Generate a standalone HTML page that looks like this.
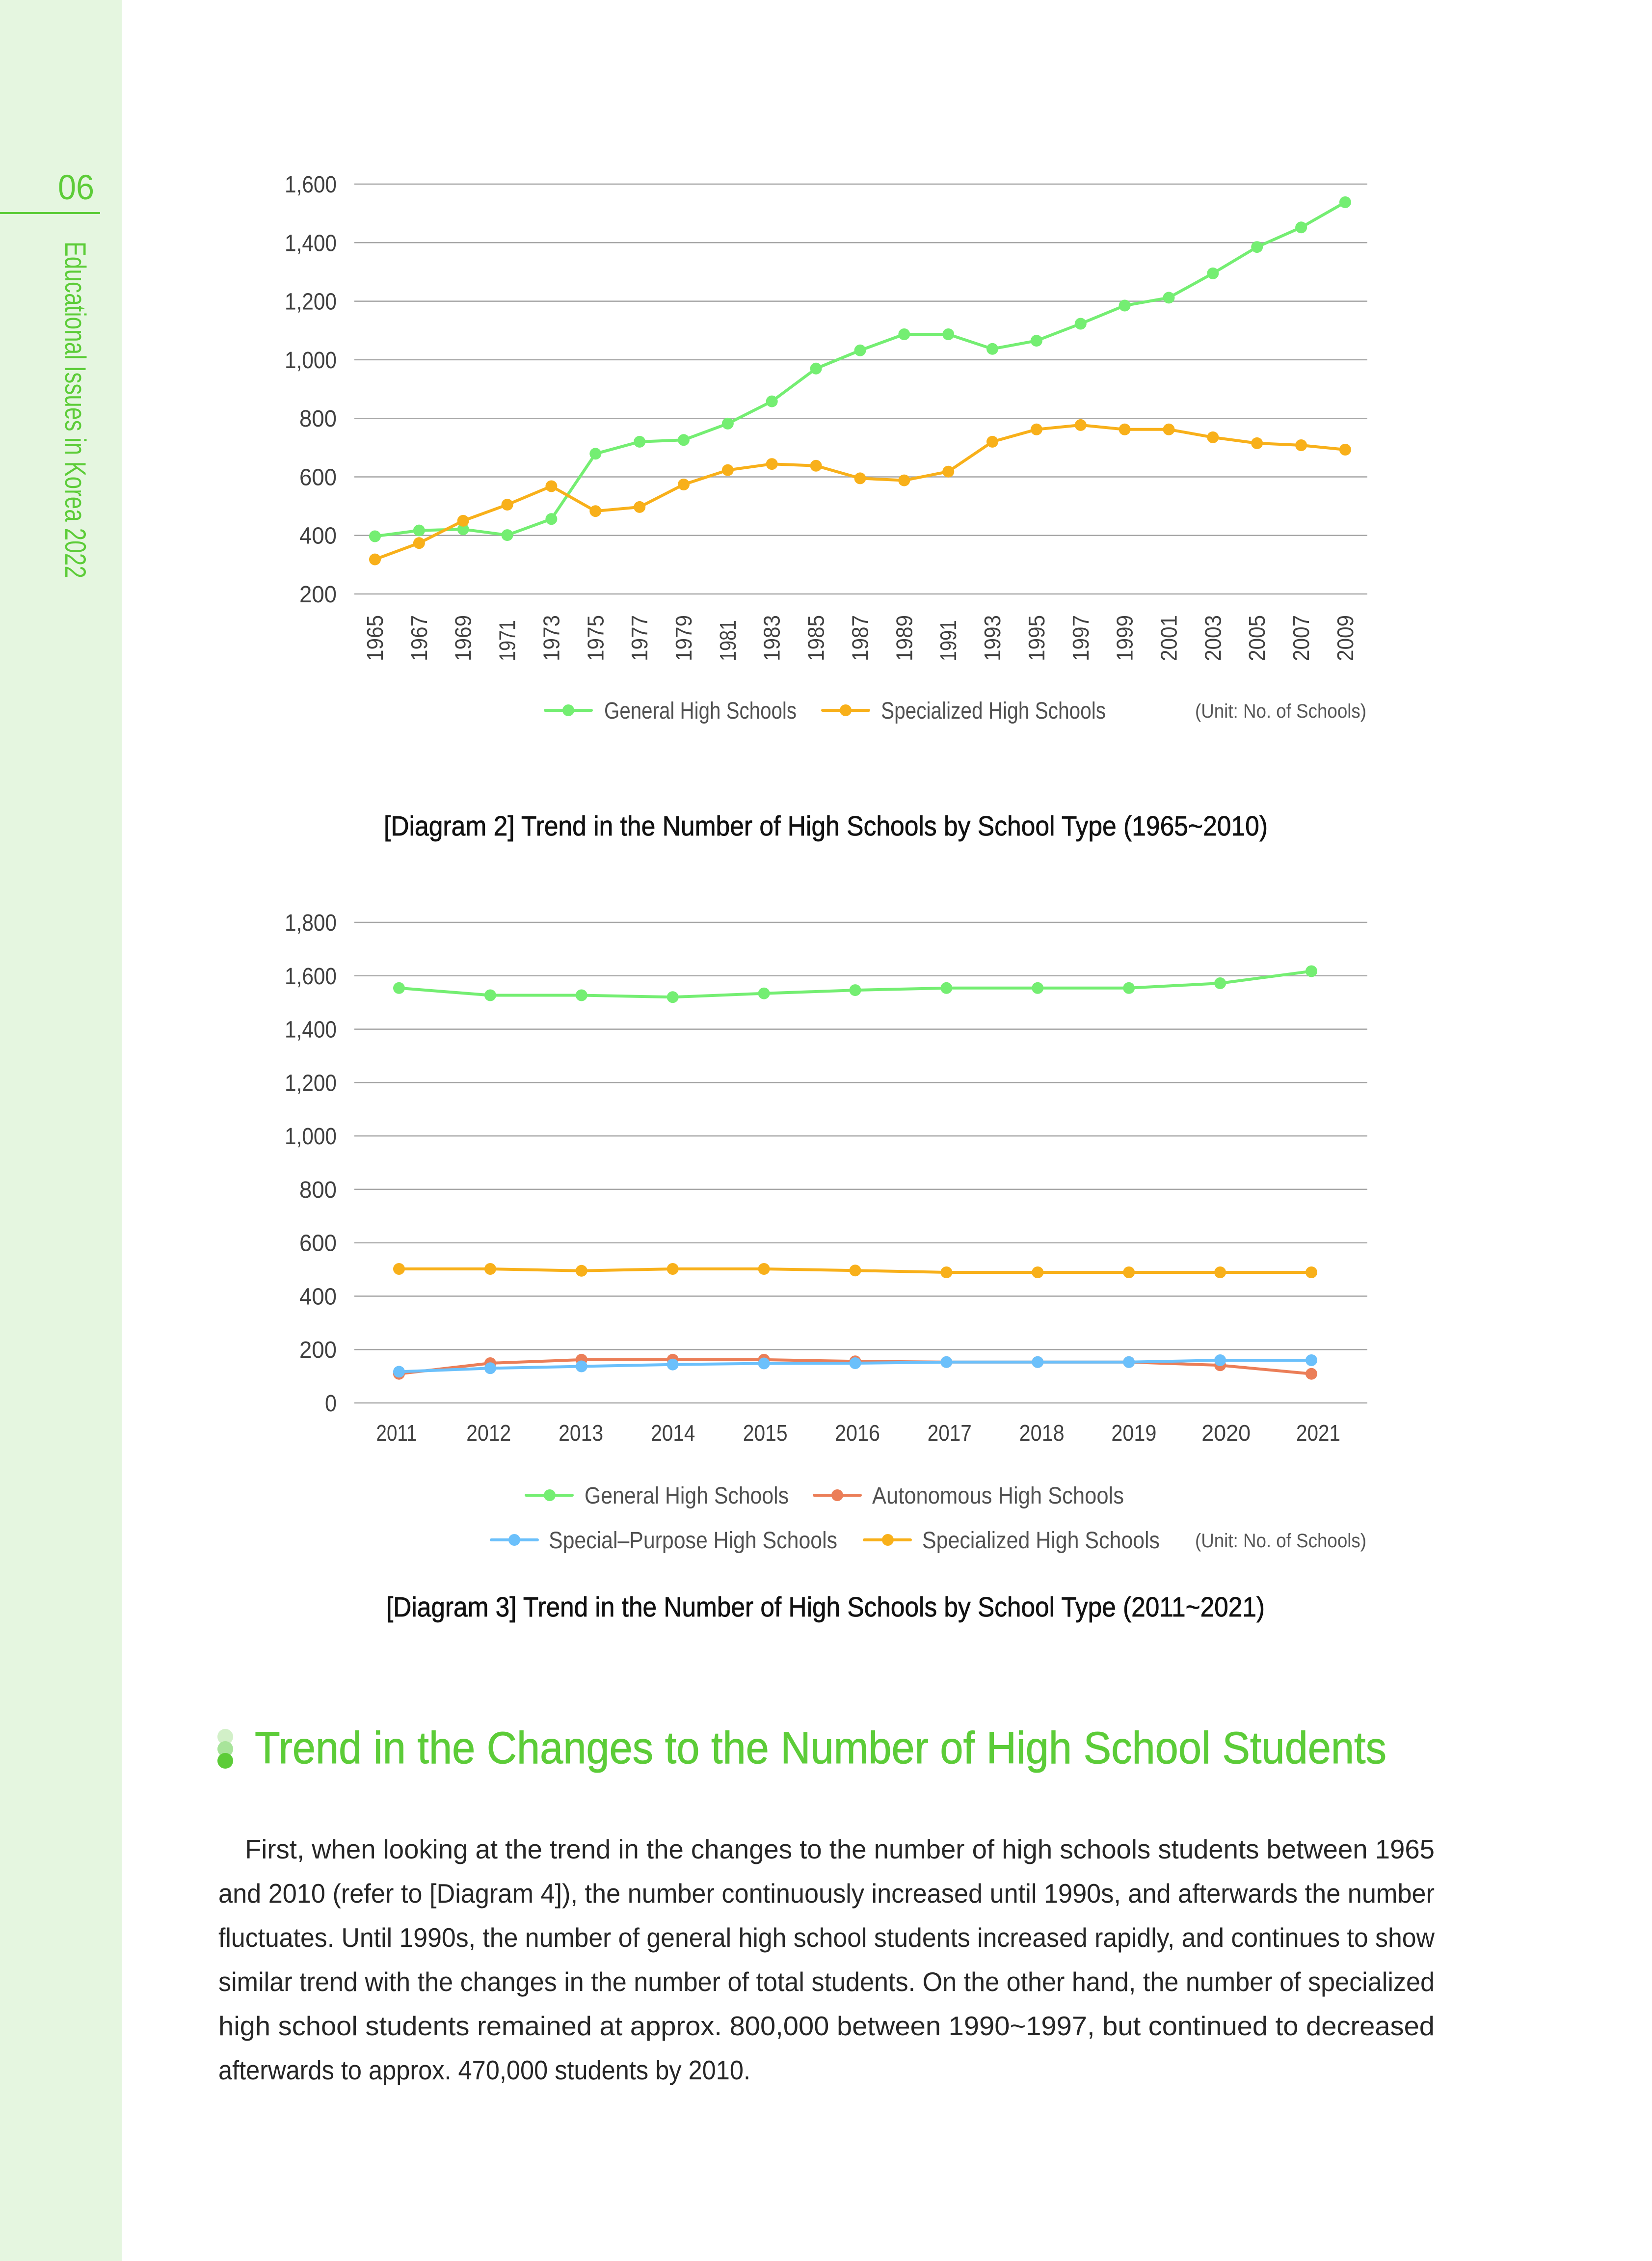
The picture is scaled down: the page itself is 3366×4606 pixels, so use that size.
<!DOCTYPE html>
<html>
<head>
<meta charset="utf-8">
<style>
  html,body{margin:0;padding:0;background:#fff;}
  body{width:3366px;height:4606px;overflow:hidden;}
  svg{display:block;}
  text{font-family:"Liberation Sans", sans-serif;}
</style>
</head>
<body>
<svg width="3366" height="4606" viewBox="0 0 3366 4606" xmlns="http://www.w3.org/2000/svg">
  <defs>
    <marker id="mG" markerWidth="26" markerHeight="26" refX="13" refY="13" markerUnits="userSpaceOnUse"><circle cx="13" cy="13" r="12" fill="#74ee72"/></marker>
    <marker id="mO" markerWidth="26" markerHeight="26" refX="13" refY="13" markerUnits="userSpaceOnUse"><circle cx="13" cy="13" r="12" fill="#f8b01a"/></marker>
    <marker id="mR" markerWidth="26" markerHeight="26" refX="13" refY="13" markerUnits="userSpaceOnUse"><circle cx="13" cy="13" r="12" fill="#eb7e58"/></marker>
    <marker id="mB" markerWidth="26" markerHeight="26" refX="13" refY="13" markerUnits="userSpaceOnUse"><circle cx="13" cy="13" r="12" fill="#6bc0fb"/></marker>
  </defs>

  <!-- Sidebar -->
  <rect x="0" y="0" width="248" height="4606" fill="#e5f6e0"/>
  <text x="118" y="406" font-size="71" fill="#5ccc38" textLength="74" lengthAdjust="spacingAndGlyphs">06</text>
  <rect x="0" y="432" width="204" height="4" fill="#5ccc38"/>
  <text transform="translate(133,492) rotate(90)" font-size="60" fill="#5ccc38" textLength="686" lengthAdjust="spacingAndGlyphs">Educational Issues in Korea 2022</text>

  <!-- ========== Chart 1 ========== -->
  <g stroke="#a6a6a6" stroke-width="2.5">
    <line x1="722" y1="375" x2="2786" y2="375"/>
    <line x1="722" y1="494.3" x2="2786" y2="494.3"/>
    <line x1="722" y1="613.6" x2="2786" y2="613.6"/>
    <line x1="722" y1="732.9" x2="2786" y2="732.9"/>
    <line x1="722" y1="852.2" x2="2786" y2="852.2"/>
    <line x1="722" y1="971.5" x2="2786" y2="971.5"/>
    <line x1="722" y1="1090.7" x2="2786" y2="1090.7"/>
    <line x1="722" y1="1210" x2="2786" y2="1210"/>
  </g>
  <g font-size="48" fill="#404040" text-anchor="end">
    <text x="686" y="392" textLength="106" lengthAdjust="spacingAndGlyphs">1,600</text>
    <text x="686" y="511.3" textLength="106" lengthAdjust="spacingAndGlyphs">1,400</text>
    <text x="686" y="630.6" textLength="106" lengthAdjust="spacingAndGlyphs">1,200</text>
    <text x="686" y="749.9" textLength="106" lengthAdjust="spacingAndGlyphs">1,000</text>
    <text x="686" y="869.2" textLength="76" lengthAdjust="spacingAndGlyphs">800</text>
    <text x="686" y="988.5" textLength="76" lengthAdjust="spacingAndGlyphs">600</text>
    <text x="686" y="1107.7" textLength="76" lengthAdjust="spacingAndGlyphs">400</text>
    <text x="686" y="1227" textLength="76" lengthAdjust="spacingAndGlyphs">200</text>
  </g>

  <polyline fill="none" stroke="#74ee72" stroke-width="6" stroke-linejoin="round"
    marker-start="url(#mG)" marker-mid="url(#mG)" marker-end="url(#mG)"
    points="764,1092.5 853.9,1080.6 943.7,1078.2 1033.6,1090.1 1123.4,1057.3 1213.3,924.3 1303.2,899.9 1393,896.3 1482.9,862.9 1572.7,817.6 1662.6,750.8 1752.5,713.8 1842.3,681 1932.2,681 2022,710.8 2111.9,694.1 2201.8,659.5 2291.6,622.5 2381.5,606.4 2471.3,556.9 2561.2,503.2 2651.1,463.3 2740.9,412"/>
  <polyline fill="none" stroke="#f8b01a" stroke-width="6" stroke-linejoin="round"
    marker-start="url(#mO)" marker-mid="url(#mO)" marker-end="url(#mO)"
    points="764,1139.6 853.9,1106.3 943.7,1060.9 1033.6,1028.1 1123.4,990.5 1213.3,1041.2 1303.2,1032.9 1393,987 1482.9,957.7 1572.7,945.2 1662.6,948.8 1752.5,974.4 1842.3,978.6 1932.2,960.7 2022,899.9 2111.9,874.8 2201.8,865.9 2291.6,874.8 2381.5,874.8 2471.3,890.9 2561.2,902.9 2651.1,907 2740.9,916"/>

  <g font-size="46" fill="#404040">
    <text transform="translate(780,1347) rotate(-90)" textLength="94" lengthAdjust="spacingAndGlyphs">1965</text>
    <text transform="translate(869.9,1347) rotate(-90)" textLength="94" lengthAdjust="spacingAndGlyphs">1967</text>
    <text transform="translate(959.7,1347) rotate(-90)" textLength="94" lengthAdjust="spacingAndGlyphs">1969</text>
    <text transform="translate(1049.6,1347) rotate(-90)" textLength="84" lengthAdjust="spacingAndGlyphs">1971</text>
    <text transform="translate(1139.4,1347) rotate(-90)" textLength="94" lengthAdjust="spacingAndGlyphs">1973</text>
    <text transform="translate(1229.3,1347) rotate(-90)" textLength="94" lengthAdjust="spacingAndGlyphs">1975</text>
    <text transform="translate(1319.2,1347) rotate(-90)" textLength="94" lengthAdjust="spacingAndGlyphs">1977</text>
    <text transform="translate(1409,1347) rotate(-90)" textLength="94" lengthAdjust="spacingAndGlyphs">1979</text>
    <text transform="translate(1498.9,1347) rotate(-90)" textLength="84" lengthAdjust="spacingAndGlyphs">1981</text>
    <text transform="translate(1588.7,1347) rotate(-90)" textLength="94" lengthAdjust="spacingAndGlyphs">1983</text>
    <text transform="translate(1678.6,1347) rotate(-90)" textLength="94" lengthAdjust="spacingAndGlyphs">1985</text>
    <text transform="translate(1768.5,1347) rotate(-90)" textLength="94" lengthAdjust="spacingAndGlyphs">1987</text>
    <text transform="translate(1858.3,1347) rotate(-90)" textLength="94" lengthAdjust="spacingAndGlyphs">1989</text>
    <text transform="translate(1948.2,1347) rotate(-90)" textLength="84" lengthAdjust="spacingAndGlyphs">1991</text>
    <text transform="translate(2038,1347) rotate(-90)" textLength="94" lengthAdjust="spacingAndGlyphs">1993</text>
    <text transform="translate(2127.9,1347) rotate(-90)" textLength="94" lengthAdjust="spacingAndGlyphs">1995</text>
    <text transform="translate(2217.8,1347) rotate(-90)" textLength="94" lengthAdjust="spacingAndGlyphs">1997</text>
    <text transform="translate(2307.6,1347) rotate(-90)" textLength="94" lengthAdjust="spacingAndGlyphs">1999</text>
    <text transform="translate(2397.5,1347) rotate(-90)" textLength="94" lengthAdjust="spacingAndGlyphs">2001</text>
    <text transform="translate(2487.3,1347) rotate(-90)" textLength="94" lengthAdjust="spacingAndGlyphs">2003</text>
    <text transform="translate(2577.2,1347) rotate(-90)" textLength="94" lengthAdjust="spacingAndGlyphs">2005</text>
    <text transform="translate(2667.1,1347) rotate(-90)" textLength="94" lengthAdjust="spacingAndGlyphs">2007</text>
    <text transform="translate(2756.9,1347) rotate(-90)" textLength="94" lengthAdjust="spacingAndGlyphs">2009</text>
  </g>

  <!-- Legend 1 -->
  <line x1="1111" y1="1447" x2="1205" y2="1447" stroke="#74ee72" stroke-width="6" stroke-linecap="round"/>
  <circle cx="1158" cy="1447" r="12" fill="#74ee72"/>
  <text x="1231" y="1464" font-size="48" fill="#505050" textLength="392" lengthAdjust="spacingAndGlyphs">General High Schools</text>
  <line x1="1676" y1="1447" x2="1770" y2="1447" stroke="#f8b01a" stroke-width="6" stroke-linecap="round"/>
  <circle cx="1723" cy="1447" r="12" fill="#f8b01a"/>
  <text x="1795" y="1464" font-size="48" fill="#505050" textLength="458" lengthAdjust="spacingAndGlyphs">Specialized High Schools</text>
  <text x="2435" y="1462" font-size="40" fill="#555" textLength="349" lengthAdjust="spacingAndGlyphs">(Unit: No. of Schools)</text>

  <!-- Caption 1 -->
  <text x="782" y="1702" font-size="57" fill="#111" stroke="#111" stroke-width="0.8" textLength="1801" lengthAdjust="spacingAndGlyphs">[Diagram 2] Trend in the Number of High Schools by School Type (1965~2010)</text>

  <!-- ========== Chart 2 ========== -->
  <g stroke="#a6a6a6" stroke-width="2.5">
    <line x1="722" y1="1879" x2="2786" y2="1879"/>
    <line x1="722" y1="1987.8" x2="2786" y2="1987.8"/>
    <line x1="722" y1="2096.6" x2="2786" y2="2096.6"/>
    <line x1="722" y1="2205.3" x2="2786" y2="2205.3"/>
    <line x1="722" y1="2314.1" x2="2786" y2="2314.1"/>
    <line x1="722" y1="2422.9" x2="2786" y2="2422.9"/>
    <line x1="722" y1="2531.7" x2="2786" y2="2531.7"/>
    <line x1="722" y1="2640.5" x2="2786" y2="2640.5"/>
    <line x1="722" y1="2749.2" x2="2786" y2="2749.2"/>
    <line x1="722" y1="2858" x2="2786" y2="2858"/>
  </g>
  <g font-size="48" fill="#404040" text-anchor="end">
    <text x="686" y="1896" textLength="106" lengthAdjust="spacingAndGlyphs">1,800</text>
    <text x="686" y="2004.8" textLength="106" lengthAdjust="spacingAndGlyphs">1,600</text>
    <text x="686" y="2113.6" textLength="106" lengthAdjust="spacingAndGlyphs">1,400</text>
    <text x="686" y="2222.3" textLength="106" lengthAdjust="spacingAndGlyphs">1,200</text>
    <text x="686" y="2331.1" textLength="106" lengthAdjust="spacingAndGlyphs">1,000</text>
    <text x="686" y="2439.9" textLength="76" lengthAdjust="spacingAndGlyphs">800</text>
    <text x="686" y="2548.7" textLength="76" lengthAdjust="spacingAndGlyphs">600</text>
    <text x="686" y="2657.5" textLength="76" lengthAdjust="spacingAndGlyphs">400</text>
    <text x="686" y="2766.2" textLength="76" lengthAdjust="spacingAndGlyphs">200</text>
    <text x="686" y="2875" textLength="24" lengthAdjust="spacingAndGlyphs">0</text>
  </g>

  <polyline fill="none" stroke="#74ee72" stroke-width="6" stroke-linejoin="round"
    marker-start="url(#mG)" marker-mid="url(#mG)" marker-end="url(#mG)"
    points="813,2012.8 998.9,2027.5 1184.8,2027.5 1370.7,2031.3 1556.6,2023.7 1742.5,2017.1 1928.4,2012.8 2114.3,2012.8 2300.2,2012.8 2486.1,2003 2672,1978.5"/>
  <polyline fill="none" stroke="#f8b01a" stroke-width="6" stroke-linejoin="round"
    marker-start="url(#mO)" marker-mid="url(#mO)" marker-end="url(#mO)"
    points="813,2585 998.9,2585 1184.8,2588.8 1370.7,2585 1556.6,2585 1742.5,2588.2 1928.4,2592 2114.3,2592 2300.2,2592 2486.1,2592 2672,2592"/>
  <polyline fill="none" stroke="#eb7e58" stroke-width="6" stroke-linejoin="round"
    marker-start="url(#mR)" marker-mid="url(#mR)" marker-end="url(#mR)"
    points="813,2798.7 998.9,2777 1184.8,2769.9 1370.7,2769.9 1556.6,2769.9 1742.5,2773.2 1928.4,2774.8 2114.3,2774.8 2300.2,2774.8 2486.1,2781.3 2672,2798.7"/>
  <polyline fill="none" stroke="#6bc0fb" stroke-width="6" stroke-linejoin="round"
    marker-start="url(#mB)" marker-mid="url(#mB)" marker-end="url(#mB)"
    points="813,2794.4 998.9,2787.3 1184.8,2783.5 1370.7,2779.7 1556.6,2777.5 1742.5,2777 1928.4,2774.8 2114.3,2774.8 2300.2,2774.8 2486.1,2771 2672,2771"/>

  <g font-size="46" fill="#404040" text-anchor="middle">
    <text x="808" y="2935" textLength="83" lengthAdjust="spacingAndGlyphs">2011</text>
    <text x="995.8" y="2935" textLength="91" lengthAdjust="spacingAndGlyphs">2012</text>
    <text x="1183.6" y="2935" textLength="91" lengthAdjust="spacingAndGlyphs">2013</text>
    <text x="1371.4" y="2935" textLength="90" lengthAdjust="spacingAndGlyphs">2014</text>
    <text x="1559.2" y="2935" textLength="91" lengthAdjust="spacingAndGlyphs">2015</text>
    <text x="1747" y="2935" textLength="92" lengthAdjust="spacingAndGlyphs">2016</text>
    <text x="1934.8" y="2935" textLength="90" lengthAdjust="spacingAndGlyphs">2017</text>
    <text x="2122.6" y="2935" textLength="92" lengthAdjust="spacingAndGlyphs">2018</text>
    <text x="2310.4" y="2935" textLength="92" lengthAdjust="spacingAndGlyphs">2019</text>
    <text x="2498.2" y="2935" textLength="100" lengthAdjust="spacingAndGlyphs">2020</text>
    <text x="2686" y="2935" textLength="90" lengthAdjust="spacingAndGlyphs">2021</text>
  </g>

  <!-- Legend 2 -->
  <line x1="1072" y1="3046" x2="1166" y2="3046" stroke="#74ee72" stroke-width="6" stroke-linecap="round"/>
  <circle cx="1120" cy="3046" r="12" fill="#74ee72"/>
  <text x="1191" y="3063" font-size="48" fill="#505050" textLength="416" lengthAdjust="spacingAndGlyphs">General High Schools</text>
  <line x1="1659" y1="3046" x2="1753" y2="3046" stroke="#eb7e58" stroke-width="6" stroke-linecap="round"/>
  <circle cx="1706" cy="3046" r="12" fill="#eb7e58"/>
  <text x="1777" y="3063" font-size="48" fill="#505050" textLength="513" lengthAdjust="spacingAndGlyphs">Autonomous High Schools</text>

  <line x1="1001" y1="3137" x2="1095" y2="3137" stroke="#6bc0fb" stroke-width="6" stroke-linecap="round"/>
  <circle cx="1048" cy="3137" r="12" fill="#6bc0fb"/>
  <text x="1118" y="3154" font-size="48" fill="#505050" textLength="588" lengthAdjust="spacingAndGlyphs">Special–Purpose High Schools</text>
  <line x1="1761" y1="3137" x2="1855" y2="3137" stroke="#f8b01a" stroke-width="6" stroke-linecap="round"/>
  <circle cx="1809" cy="3137" r="12" fill="#f8b01a"/>
  <text x="1879" y="3154" font-size="48" fill="#505050" textLength="484" lengthAdjust="spacingAndGlyphs">Specialized High Schools</text>
  <text x="2435" y="3152" font-size="40" fill="#555" textLength="349" lengthAdjust="spacingAndGlyphs">(Unit: No. of Schools)</text>

  <!-- Caption 2 -->
  <text x="787" y="3293" font-size="57" fill="#111" stroke="#111" stroke-width="0.8" textLength="1790" lengthAdjust="spacingAndGlyphs">[Diagram 3] Trend in the Number of High Schools by School Type (2011~2021)</text>

  <!-- Heading -->
  <circle cx="459" cy="3538" r="16" fill="#d2f0c8"/>
  <circle cx="459" cy="3563" r="16" fill="#a8e49a"/>
  <circle cx="459" cy="3587" r="16" fill="#5ccc38"/>
  <text x="519" y="3592" font-size="92" fill="#5ccc38" stroke="#5ccc38" stroke-width="1" textLength="2306" lengthAdjust="spacingAndGlyphs">Trend in the Changes to the Number of High School Students</text>

  <!-- Body -->
  <g font-size="55" fill="#262626">
    <text x="499" y="3786" textLength="2424" lengthAdjust="spacingAndGlyphs">First, when looking at the trend in the changes to the number of high schools students between 1965</text>
    <text x="445" y="3876" textLength="2478" lengthAdjust="spacingAndGlyphs">and 2010 (refer to [Diagram 4]), the number continuously increased until 1990s, and afterwards the number</text>
    <text x="445" y="3966" textLength="2478" lengthAdjust="spacingAndGlyphs">fluctuates. Until 1990s, the number of general high school students increased rapidly, and continues to show</text>
    <text x="445" y="4056" textLength="2478" lengthAdjust="spacingAndGlyphs">similar trend with the changes in the number of total students. On the other hand, the number of specialized</text>
    <text x="445" y="4146" textLength="2478" lengthAdjust="spacingAndGlyphs">high school students remained at approx. 800,000 between 1990~1997, but continued to decreased</text>
    <text x="445" y="4236" textLength="1084" lengthAdjust="spacingAndGlyphs">afterwards to approx. 470,000 students by 2010.</text>
  </g>
</svg>
</body>
</html>
